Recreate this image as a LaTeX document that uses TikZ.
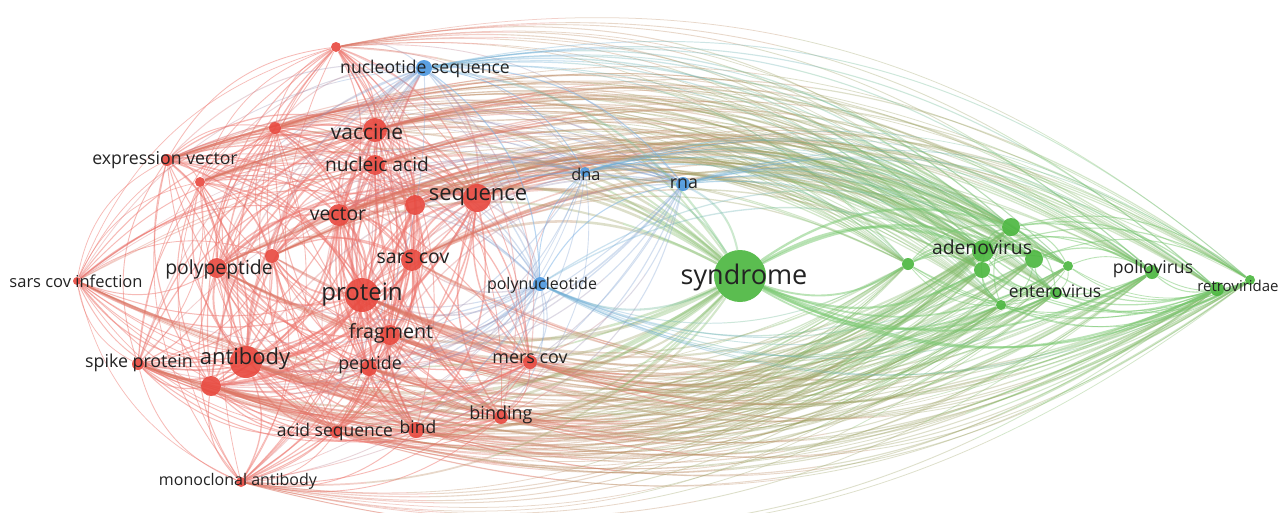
\documentclass[tikz,border=0pt]{standalone}
\usepackage{fontspec}
\setmainfont{Open Sans}
\usetikzlibrary{backgrounds}
\definecolor{vr}{RGB}{232,72,62}
\definecolor{vg}{RGB}{74,182,62}
\definecolor{vb}{RGB}{74,150,222}
\definecolor{ink}{RGB}{35,35,35}

% keywords: name/x/y/radius/cluster
\def\kwlist{a1/336/47/5/vr, a2/275/128/6/vr, vac/375/130/12/vr, ev/167/160/6/vr,
  a3/200/182/5/vr, na/375/165/10/vr, seq/477/198/14/vr, a4/415/205/10/vr,
  vec/339/215/11/vr, sc/412/260/11/vr, a5/272/256/7/vr, pp/217/268/10/vr,
  sci/77/281/4/vr, pro/362/295/17/vr, fr/390/335/10/vr, ab/246/362/16/vr,
  sp/138/364/6/vr, pep/369/368/8/vr, a6/211/386/10/vr, mc/530/362/7/vr,
  bd/416/430/8/vr, as/336/432/6/vr, bg/501/417/7/vr, ma/241/482/5/vr,
  ns/424/68/8/vb, dna/585/172/5/vb, rna/683/184/7/vb, pn/540/284/7/vb,
  syn/740/276/26/vg, adv/983/251/11/vg, g1/1011/227/9/vg, g2/908/264/6/vg,
  g3/982/270/8/vg, g4/1034/259/9/vg, g5/1068/266/5/vg, g6/1001/305/5/vg,
  ent/1056/293/6/vg, pol/1152/272/7/vg, ret/1217/289/7/vg, g7/1250/280/5/vg}

\begin{document}
\begin{tikzpicture}[x=0.3pt,y=-0.3pt,
    kw/.style={circle,inner sep=0pt,fill opacity=0.9},
    link/.style={draw opacity=0.5,line cap=round},
    xlink/.style={draw opacity=0.34,line cap=round},
    lbl/.style={text=ink,inner sep=0pt}]
  \useasboundingbox (0,0) rectangle (1286,512);

  % keyword circles
  \foreach \a/\x/\y/\r/\c in \kwlist
    \node[kw,fill=\c,minimum size=0.6*\r] (\a) at (\x,\y) {};

  % co-occurrence links, colour running from one cluster to the other
  \begin{scope}[on background layer]
    \fill[white] (0,0) rectangle (1286,512);
    \clip (0,0) rectangle (1286,512);
    \foreach \a/\xa/\ya/\ra/\ca [count=\i] in \kwlist {
      \foreach \b/\xb/\yb/\rb/\cb [count=\j] in \kwlist {
        \ifnum\j>\i
          \pgfmathsetmacro\bnd{ifthenelse(\xb>\xa,1,-1)*ifthenelse(\ya+\yb<540,1,-1)*26}
          \pgfmathsetmacro\lw{sqrt(\ra*\rb)/22}
          \ifx\ca\cb
            \draw[link,line width=\lw pt,draw=\ca!75!white] (\a) to[bend left=\bnd] (\b);
          \else
            \ifnum\xa<\xb \edef\cle{\ca}\edef\cri{\cb}\else\edef\cle{\cb}\edef\cri{\ca}\fi
            \pgfmathsetmacro\xmin{min(\xa,\xb)}
            \pgfmathsetmacro\xlen{abs(\xb-\xa)}
            \foreach \k in {0,1,2,3} {
              \pgfmathsetmacro\xs{ifthenelse(\k==0,-200,\xmin+\xlen*\k/4)}
              \pgfmathsetmacro\xe{ifthenelse(\k==3,1500,\xmin+\xlen*(\k+1)/4)}
              \pgfmathtruncatemacro\pc{88-25*\k}
              \begin{scope}
                \clip (\xs,-100) rectangle (\xe,700);
                \draw[xlink,line width=\lw pt,draw=\cle!\pc!\cri!80!white] (\a) to[bend left=\bnd] (\b);
              \end{scope}
            }
          \fi
        \fi
      }
    }
  \end{scope}

  % labels
  \foreach \a/\x/\y/\fs/\txt in {
      vac/367/132/21/vaccine, ev/165/160/17.7/expression vector,
      na/377/164/19.2/nucleic acid, seq/478/197/22/sequence,
      vec/338/214/19.4/vector, sc/413/258/19.4/sars cov,
      pp/219/269/19.4/polypeptide, sci/76/281/16.5/sars cov infection,
      pro/362/295/24/protein, fr/391/333/19.6/fragment,
      ab/245/359/22/antibody, sp/139/363/17.8/spike protein,
      pep/370/365/17.8/peptide, mc/530/359/17.9/mers cov,
      bd/418/427/17.5/bind, as/335/432/17.5/acid sequence,
      bg/501/415/18/binding, ma/238/481/16/monoclonal antibody,
      ns/425/69/17.6/nucleotide sequence, dna/586/174/16.3/dna,
      rna/684/184/17.8/rna, pn/542/285/16/polynucleotide,
      syn/744/277/27/syndrome, adv/982/247/19.3/adenovirus,
      ent/1055/291/17.4/enterovirus, pol/1153/269/17.6/poliovirus,
      ret/1238/286/15/retroviridae} {
    \pgfmathsetmacro\fss{0.3*\fs}
    \node[lbl,font=\fontsize{\fss}{\fss}\selectfont] (l\a) at (\x,\y) {\txt};
  }
\end{tikzpicture}
\end{document}
